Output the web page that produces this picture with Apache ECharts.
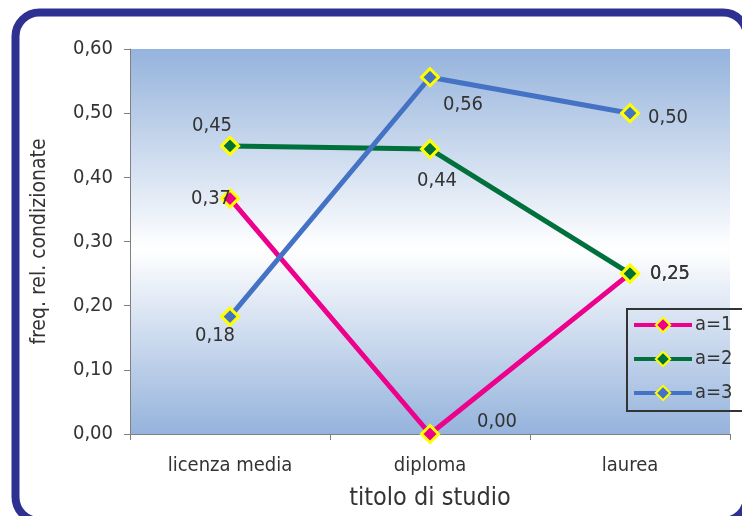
<!DOCTYPE html>
<html>
<head>
<meta charset="utf-8">
<script src="https://cdn.jsdelivr.net/npm/echarts@6/dist/echarts.min.js"></script>
<style>
  html, body { margin: 0; padding: 0; background: #ffffff; overflow: hidden; }
  #chart { width: 742px; height: 516px; }
</style>
</head>
<body>
<div id="chart"></div>
<script>
// Categories on the x axis (titolo di studio)
const categories = ['licenza media', 'diploma', 'laurea'];

// Conditional relative frequencies for each value of a
const seriesNames = ['a=1', 'a=2', 'a=3'];
const valuesA1 = [0.367, 0.000, 0.250];
const valuesA2 = [0.449, 0.444, 0.250];
const valuesA3 = [0.183, 0.556, 0.500];

// Y axis ticks
const yTicks = [0.0, 0.1, 0.2, 0.3, 0.4, 0.5, 0.6];

// Styling (kept apart from the data)
const colors = ['#ec008c', '#00703c', '#4472c4'];
const labelOffsets = [
  [[-19, 0], [67, -12], [40, 0]],
  [[-18, -20], [7, 32], [40, 0]],
  [[-15, 19], [33, 28], [38, 5]]
];

const FONT = 'DejaVu Sans Condensed';
const TEXT = '#333333';
const fmt = v => Number(v).toFixed(2).replace('.', ',');

const allValues = [valuesA1, valuesA2, valuesA3];

const series = allValues.map((vals, si) => ({
  name: seriesNames[si],
  type: 'line',
  symbol: 'diamond',
  symbolSize: 17,
  z: 2 + si,
  lineStyle: { width: 5, color: colors[si] },
  itemStyle: { color: colors[si], borderColor: '#ffff00', borderWidth: 3 },
  emphasis: { disabled: true },
  data: vals.map((v, i) => ({
    value: v,
    label: {
      show: true,
      position: 'inside',
      align: 'center',
      verticalAlign: 'middle',
      offset: labelOffsets[si][i],
      formatter: p => fmt(p.value),
      color: TEXT,
      fontFamily: FONT,
      fontSize: 20
    }
  }))
}));

const chart = echarts.init(document.getElementById('chart'), null, { renderer: 'canvas' });

chart.setOption({
  animation: false,
  backgroundColor: '#ffffff',
  textStyle: { fontFamily: FONT, color: TEXT },
  graphic: [{
    // rounded frame around the whole chart, running past the right and bottom edges
    type: 'rect',
    z: 100,
    silent: true,
    shape: { x: 15.5, y: 12.5, width: 731.5, height: 508.5, r: 24 },
    style: { fill: 'none', stroke: '#2e3192', lineWidth: 8 }
  }],
  grid: {
    left: 130, right: 12, top: 49, bottom: 82,
    show: true,
    borderWidth: 0,
    backgroundColor: new echarts.graphic.LinearGradient(0, 0, 0, 1, [
      { offset: 0, color: '#95b3dc' },
      { offset: 0.52, color: '#ffffff' },
      { offset: 1, color: '#95b3dc' }
    ])
  },
  legend: {
    orient: 'vertical',
    left: 627, top: 309,
    data: seriesNames,
    itemWidth: 58,
    itemHeight: 18,
    itemGap: 14,
    padding: [6, 14, 8, 5],
    borderColor: '#333333',
    borderWidth: 2,
    backgroundColor: 'transparent',
    lineStyle: { width: 4 },
    itemStyle: { borderWidth: 2, borderColor: '#ffff00' },
    textStyle: { fontFamily: FONT, fontSize: 20, color: TEXT, padding: [0, 0, 0, -2] }
  },
  xAxis: {
    type: 'category',
    data: categories,
    boundaryGap: true,
    name: 'titolo di studio',
    nameLocation: 'middle',
    nameGap: 52,
    nameTextStyle: { fontFamily: FONT, fontSize: 25, color: TEXT },
    axisLine: { show: true, lineStyle: { color: '#808080', width: 1 } },
    axisTick: { show: true, length: 6, lineStyle: { color: '#808080' } },
    axisLabel: { margin: 22, fontFamily: FONT, fontSize: 20, color: TEXT },
    splitLine: { show: false }
  },
  yAxis: {
    type: 'value',
    min: yTicks[0],
    max: yTicks[yTicks.length - 1],
    interval: yTicks[1] - yTicks[0],
    name: 'freq. rel. condizionate',
    nameLocation: 'middle',
    nameGap: 80,
    nameTextStyle: { fontFamily: FONT, fontSize: 21, color: TEXT },
    axisLine: { show: true, lineStyle: { color: '#808080', width: 1 } },
    axisTick: { show: true, length: 6, lineStyle: { color: '#808080' } },
    axisLabel: { margin: 17, fontFamily: FONT, fontSize: 20, color: TEXT, formatter: v => fmt(v) },
    splitLine: { show: false }
  },
  series: series
});
</script>
</body>
</html>
